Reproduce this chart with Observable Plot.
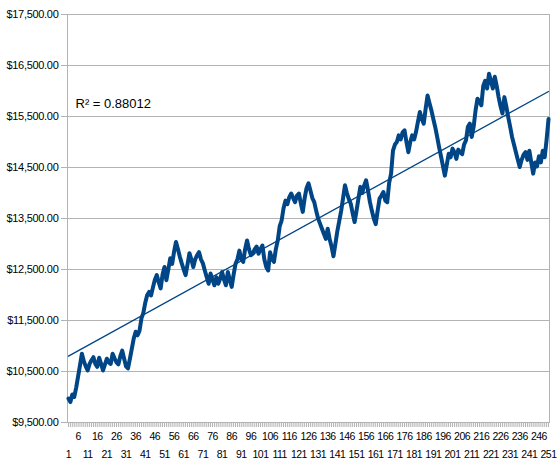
<!DOCTYPE html>
<html>
<head>
<meta charset="utf-8">
<script src="https://cdn.jsdelivr.net/npm/d3@7"></script>
<script src="https://cdn.jsdelivr.net/npm/@observablehq/plot@0.6"></script>
<style>
  html, body { margin: 0; padding: 0; background: #fff; }
  #chart svg { display: block; }
  #chart g[aria-label="x-axis tick label"] text { letter-spacing: -0.5px; }
  #chart g[aria-label="y-axis tick label"] text { letter-spacing: -0.3px; }
</style>
</head>
<body>
<div id="chart"></div>
<script>
// Series values (one per category 1..251)
const values = [
  9970, 9900, 10050, 10000, 10180, 10400, 10620, 10850, 10700, 10600,
  10520, 10650, 10720, 10780, 10650, 10590, 10770, 10650, 10520, 10640,
  10750, 10680, 10650, 10850, 10760, 10680, 10640, 10800, 10910, 10750,
  10600, 10560, 10750, 10950, 11150, 11280, 11210, 11300, 11540, 11650,
  11850, 12000, 12060, 11990, 12150, 12300, 12390, 12250, 12130, 12400,
  12550, 12290, 12500, 12720, 12610, 12850, 13040, 12900, 12750, 12620,
  12500, 12390, 12600, 12820, 12700, 12550, 12700, 12780, 12840, 12700,
  12620, 12480, 12350, 12220, 12420, 12300, 12190, 12350, 12220, 12320,
  12450, 12300, 12190, 12450, 12300, 12160, 12400, 12610, 12700, 12870,
  12700, 12650, 12900, 13070, 12900, 12780, 12810, 12900, 12950, 12810,
  12900, 12970, 12700, 12550, 12480, 12840, 12700, 12650, 12900, 13070,
  13350, 13460, 13700, 13850, 13780, 13920, 13990, 13900, 13820, 13950,
  13990, 13800, 13630, 13900, 14100, 14190, 14050, 13900, 13820, 13650,
  13500, 13400, 13300, 13200, 13100, 13300, 13100, 12950, 12760, 13000,
  13250, 13450, 13650, 13900, 14150, 14000, 13880, 13790, 13600, 13430,
  13650, 13890, 14120, 14000, 14150, 14250, 14050, 13820, 13650, 13500,
  13390, 13650, 13890, 13950, 14020, 13850, 13820, 14200, 14380, 14830,
  14950, 15000, 15130, 15050, 15190, 15230, 15000, 14800, 15000, 15130,
  15050, 15200, 15400, 15590, 15450, 15360, 15650, 15910, 15760, 15620,
  15450, 15290, 15100, 14900, 14720, 14530, 14340, 14550, 14770, 14700,
  14870, 14800, 14670, 14850, 14800, 14760, 14950, 15030, 15300, 15360,
  15100, 15300, 15620, 15850, 15800, 15720, 16100, 16200, 16050, 16340,
  16200, 16050, 16280, 16100, 15880, 15700, 15560, 15880, 15700, 15490,
  15300, 15100, 14950, 14800, 14650, 14510, 14650, 14750, 14800, 14650,
  14830, 14600, 14380, 14600, 14520, 14720, 14600, 14830, 14700, 15050,
  15450
];
const categories = values.map((_, i) => i + 1);

// Tick labels
const yTicks = [9500, 10500, 11500, 12500, 13500, 14500, 15500, 16500, 17500];
const xLabelsLower = [1, 11, 21, 31, 41, 51, 61, 71, 81, 91, 101, 111, 121, 131, 141, 151, 161, 171, 181, 191, 201, 211, 221, 231, 241, 251];
const xLabelsUpper = [6, 16, 26, 36, 46, 56, 66, 76, 86, 96, 106, 116, 126, 136, 146, 156, 166, 176, 186, 196, 206, 216, 226, 236, 246];
const r2Label = "R\u00B2 = 0.88012";

const data = categories.map((c, i) => ({ c, v: values[i] }));

const blue = "#004586";
const gray = "#b3b3b3";

const chart = Plot.plot({
  width: 557,
  height: 467,
  marginLeft: 67,
  marginRight: 8,
  marginTop: 14,
  marginBottom: 45,
  style: { fontFamily: "'Liberation Sans', Arial, sans-serif", fontSize: "11px", color: "#000", background: "#fff" },
  x: { domain: [0.5, 251.5] },
  y: { domain: [9500, 17500] },
  marks: [
    Plot.gridY(yTicks, { stroke: gray, strokeOpacity: 1 }),
    Plot.frame({ stroke: gray }),
    Plot.axisY({ ticks: yTicks, tickFormat: d3.format("$,.2f"), tickSize: 6, tickPadding: 3, stroke: gray, strokeOpacity: 1, label: null, fontSize: 11 }),
    Plot.axisX({ ticks: categories, tickFormat: () => "", tickSize: 5, stroke: gray, strokeOpacity: 1, label: null }),
    Plot.axisX({ ticks: xLabelsUpper, tickFormat: d => String(d), tickSize: 0, tickPadding: 10, label: null, fontSize: 10.5 }),
    Plot.axisX({ ticks: xLabelsLower, tickFormat: d => String(d), tickSize: 0, tickPadding: 28, label: null, fontSize: 10.5 }),
    Plot.line(data, { x: "c", y: "v", stroke: blue, strokeWidth: 4, strokeLinejoin: "round", strokeLinecap: "round" }),
    Plot.linearRegressionY(data, { x: "c", y: "v", stroke: blue, strokeWidth: 1.3, ci: 0 }),
    Plot.text([r2Label], { frameAnchor: "top-left", textAnchor: "start", lineAnchor: "middle", dx: 8, dy: 89, fontSize: 13, fill: "#000" })
  ]
});

document.getElementById("chart").appendChild(chart);
</script>
</body>
</html>
